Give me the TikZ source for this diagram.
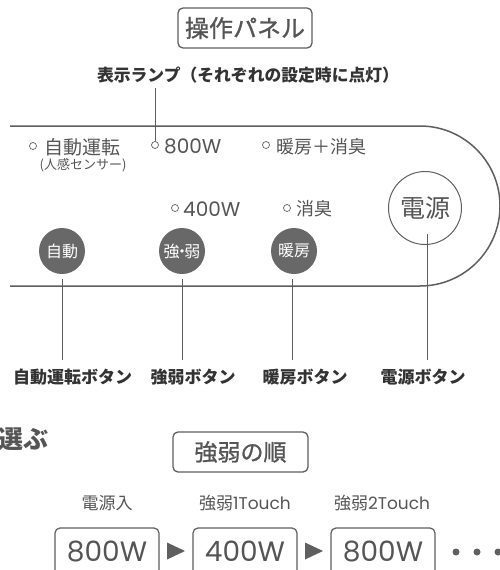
\documentclass[tikz,border=0pt]{standalone}
\usepackage{fontspec}
\setmainfont{Noto Sans CJK JP}
\newfontfamily\jpmed{Noto Sans CJK JP}[FakeBold=1]
\newfontfamily\pop{Poppins}
\usetikzlibrary{calc}
\definecolor{tx}{HTML}{555555}
\definecolor{dk}{HTML}{333333}
\definecolor{ln}{HTML}{5F5F5F}
\definecolor{btn}{HTML}{686868}
\begin{document}
\begin{tikzpicture}[x=1pt,y=-1pt,
  tbox/.style={draw=ln, line width=1.3pt, rounded corners=5pt, text=tx, inner sep=0pt},
  lampc/.style={circle, draw=ln, line width=0.7pt, minimum size=7pt, inner sep=0pt},
  ltext/.style={anchor=west, text=tx, inner sep=0pt, font=\fontsize{19}{20}\selectfont},
  btnc/.style={circle, fill=btn, text=white, minimum size=46pt, inner sep=0pt, font=\fontsize{16}{16}\selectfont},
  blab/.style={text=dk, inner sep=0pt, font=\bfseries\fontsize{17}{17}\selectfont},
  slab/.style={text=tx, inner sep=0pt, font=\fontsize{17}{17}\selectfont},
  conn/.style={draw=ln, line width=0.9pt},
  wtext/.style={text=tx, inner sep=0pt, font=\pop\fontsize{28}{28}\selectfont},
  frame/.style={draw=ln, line width=1.2pt, rounded corners=5pt},
  tri/.style={fill=ln},
  dot/.style={circle, fill=ln, minimum size=7pt, inner sep=0pt}
]
\clip (0,0) rectangle (500,570);
\fill[white] (0,0) rectangle (500,570);

% title
\node[tbox, minimum width=134pt, minimum height=40pt, font=\jpmed\fontsize{24}{24}\selectfont] (title) at (245,28) {操作パネル};
\node[blab, font=\bfseries\fontsize{16.8}{17}\selectfont] (lamp) at (248,75) {表示ランプ（それぞれの設定時に点灯）};

% panel
\draw[ln, line width=1.5pt] (10,126) -- (420,126) arc[start angle=90, end angle=-90, radius=80pt] -- (10,286);

% lamps
\node[lampc] (l1) at (33,146) {};
\node[ltext] (t1) at (44,147) {自動運転};
\node[text=tx, inner sep=0pt, font=\fontsize{13}{13}\selectfont] (t1b) at (83,165) {(人感センサー)};
\node[lampc] (l2) at (155,145) {};
\node[ltext, font=\pop\fontsize{20}{20}\selectfont] (t2) at (164,146) {800W};
\node[lampc] (l3) at (266,145) {};
\node[ltext, font=\fontsize{18}{20}\selectfont] (t3) at (276,147) {暖房＋消臭};
\node[lampc] (l4) at (175,208) {};
\node[ltext, font=\pop\fontsize{20}{20}\selectfont] (t4) at (183,209) {400W};
\node[lampc] (l5) at (287,208) {};
\node[ltext, font=\fontsize{18}{20}\selectfont] (t5) at (296,209) {消臭};

\draw[conn] (lamp.south -| l2) ++(0,5) -- (l2.north);

% buttons
\node[btnc] (b1) at (62,251) {自動};
\node[btnc] (b2) at (182,251) {強\kern-0.35em・\kern-0.35em弱};
\node[btnc] (b3) at (294,251) {暖房};
\node[circle, draw=ln, line width=1pt, minimum size=73pt, inner sep=0pt, text=tx, font=\fontsize{25}{25}\selectfont] (b4) at (425,208) {電源};

% labels
\node[blab] (a1) at (72.5,377) {自動運転ボタン};
\node[blab] (a2) at (193,377) {強弱ボタン};
\node[blab] (a3) at (305,377) {暖房ボタン};
\node[blab] (a4) at (423,377) {電源ボタン};

\coordinate (e1) at (62,360);
\coordinate (e2) at (182,360);
\coordinate (e3) at (292,360);
\coordinate (e4) at (427,360);
\draw[conn] (b1.south) ++(0,5) -- (e1);
\draw[conn] (b2.south) ++(0,5) -- (e2);
\draw[conn] (b3.south) ++(-2,5) -- (e3);
\draw[conn] (b4.center) ++(2,26) -- (e4);

% bottom section
\node[anchor=east, text=tx, inner sep=0pt, font=\bfseries\fontsize{25}{25}\selectfont] (sel) at (49,439) {選ぶ};
\node[tbox, minimum width=135pt, minimum height=40pt, font=\jpmed\fontsize{23}{23}\selectfont] (order) at (240.5,452) {強弱の順};

\node[slab] (s1) at (107,503) {電源入};
\node[slab] (s2) at (245,503) {強弱{\pop 1Touch}};
\node[slab] (s3) at (382,503) {強弱{\pop 2Touch}};

\node[wtext] (w1) at (107,551) {800W};
\node[wtext] (w2) at (245,551) {400W};
\node[wtext] (w3) at (383,551) {800W};
\draw[frame] (w1.center) ++(-52,-23) rectangle ++(104,52);
\draw[frame] (w2.center) ++(-52,-23) rectangle ++(104,52);
\draw[frame] (w3.center) ++(-52,-23) rectangle ++(104,52);

\coordinate (m1) at ($(w1.center)!0.5!(w2.center)$);
\coordinate (m2) at ($(w2.center)!0.5!(w3.center)$);
\fill[tri] ($(m1)+(-9,-8.5)$) -- ($(m1)+(9,0)$) -- ($(m1)+(-9,8.5)$) -- cycle;
\fill[tri] ($(m2)+(-9,-8.5)$) -- ($(m2)+(9,0)$) -- ($(m2)+(-9,8.5)$) -- cycle;

\node[dot] (d1) at (456,552) {};
\node[dot] (d2) at (477,552) {};
\node[dot] (d3) at (498,552) {};
\end{tikzpicture}
\end{document}
